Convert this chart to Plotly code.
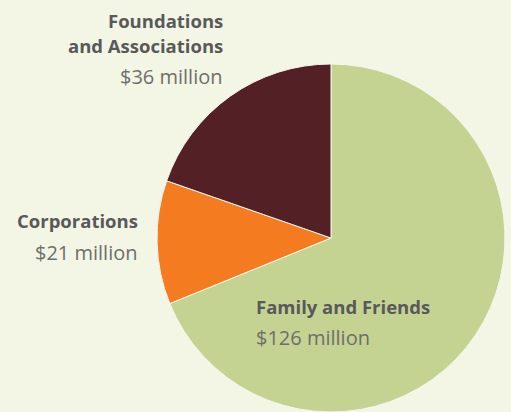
import plotly.graph_objects as go

categories = ["Family and Friends", "Corporations", "Foundations and Associations"]
values = [126, 21, 36]
value_labels = ["$126 million", "$21 million", "$36 million"]
colors = ["#c5d392", "#f47b20", "#532026"]

W, H = 511, 412
BG = "#f3f6e4"
HEAD = "#59595b"
VAL = "#6e6e6c"
FONT = "Open Sans"

fig = go.Figure(go.Pie(
    labels=categories, values=values, sort=False, direction="clockwise", rotation=0,
    marker=dict(colors=colors, line=dict(color="#f6f6ee", width=1)),
    textinfo="none", hoverinfo="label+value", showlegend=False,
    domain=dict(x=[155 / W, 507 / W], y=[0, 1 - 64 / H]),
))

def px(y):
    return 1 - y / H

def ann(text, x, y, anchor, bold, size):
    fig.add_annotation(
        text=f"<b>{text}</b>" if bold else text,
        x=x / W, y=px(y), xref="paper", yref="paper",
        xanchor=anchor, yanchor="middle", showarrow=False,
        font=dict(family=FONT, size=size, color=HEAD if bold else VAL),
    )

# Foundations and Associations (right aligned)
ann("Foundations", 225, 20.3, "right", True, 18.5)
ann("and Associations", 225, 45.3, "right", True, 18.5)
ann(value_labels[2], 225, 76, "right", False, 20)
# Corporations
ann(categories[1], 140, 220.3, "right", True, 18.5)
ann(value_labels[1], 140, 253, "right", False, 20)
# Family and Friends
ann(categories[0], 254, 306.3, "left", True, 18.5)
ann(value_labels[0], 254, 337, "left", False, 20)

fig.update_layout(
    width=W, height=H, margin=dict(l=0, r=0, t=0, b=0),
    paper_bgcolor=BG, plot_bgcolor=BG,
)
fig.write_html(
    "out.html",
    config={"displayModeBar": False},
    post_script=f"document.body.style.margin='0';document.body.style.background='{BG}';",
)
